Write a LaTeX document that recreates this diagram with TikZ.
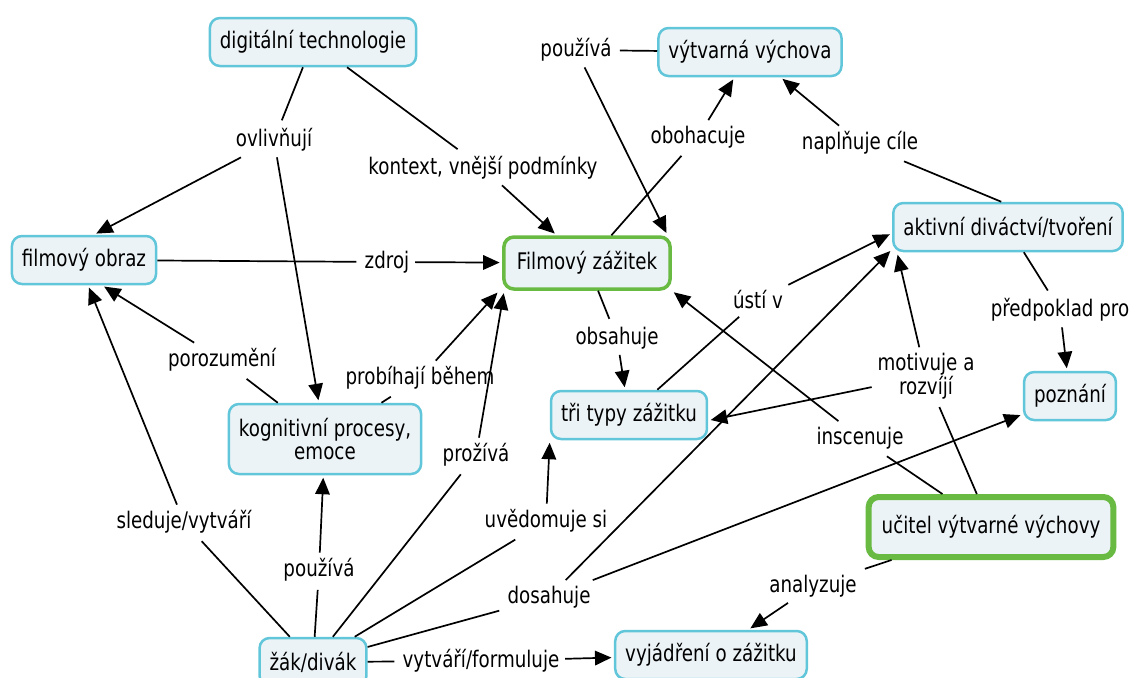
\documentclass[tikz,border=0pt]{standalone}
\usepackage{fontspec}
\setmainfont[FakeStretch=0.8]{DejaVu Sans}
\usetikzlibrary{arrows.meta}
\definecolor{cmapfill}{RGB}{236,243,246}
\definecolor{cmapcyan}{RGB}{98,198,218}
\definecolor{cmapgreen}{RGB}{104,186,66}

\begin{document}
\begin{tikzpicture}[x=0.02cm, y=-0.02cm, line width=0.034cm, >={Triangle[length=0.33cm,width=0.29cm]}, every edge/.append style={shorten >=0.05cm}, concept/.style = {draw=cmapcyan, line width=0.05cm, fill=cmapfill, rounded corners=0.2cm, inner xsep=0.2cm, inner ysep=0.1cm, minimum height=0.96cm, align=center, font=\fontsize{13}{13.5}\selectfont}, mainconcept/.style = {concept, draw=cmapgreen, line width=0.07cm, inner xsep=0.26cm, minimum height=1.04cm}, link/.style = {inner sep=0.1cm, align=center, font=\fontsize{13}{13.5}\selectfont}]

\useasboundingbox (0,0) rectangle (1130,677);

% concepts
\node[concept] (dt) at (313,42) {digitální technologie};
\node[concept] (vv) at (750,52) {výtvarná výchova};
\node[concept] (fo) at (84,260) {filmový obraz};
\node[mainconcept] (fz) at (587,263) {Filmový zážitek};
\node[concept] (ad) at (1008,227) {aktivní diváctví/tvoření};
\node[concept] (pz) at (1070,396) {poznání};
\node[concept] (tt) at (629,415) {tři typy zážitku};
\node[concept, minimum height=1.4cm] (kp) at (325,439) {kognitivní procesy,\\emoce};
\node[mainconcept, line width=0.12cm, minimum height=1.2cm] (uc) at (991,527) {učitel výtvarné výchovy};
\node[concept] (zd) at (313,662) {žák/divák};
\node[concept] (vz) at (711,655) {vyjádření o zážitku};

% linking phrases
\node[link] (ovl) at (274,140) {ovlivňují};
\node[link] (kon) at (483,168) {kontext, vnější podmínky};
\node[link] (pou) at (576,50) {používá};
\node[link] (obo) at (698,137) {obohacuje};
\node[link] (nap) at (860,143) {naplňuje cíle};
\node[link] (zdr) at (387,262) {zdroj};
\node[link] (por) at (222,360) {porozumění};
\node[link] (prb) at (420,378) {probíhají během};
\node[link] (obs) at (617,338) {obsahuje};
\node[link] (ust) at (758,300) {ústí v};
\node[link] (pre) at (1060,310) {předpoklad pro};
\node[link] (mot) at (926,376) {motivuje a\\rozvíjí};
\node[link] (ins) at (860,438) {inscenuje};
\node[link] (prz) at (476,455) {prožívá};
\node[link] (uve) at (546,521) {uvědomuje si};
\node[link] (sle) at (184,522) {sleduje/vytváří};
\node[link] (pou2) at (319,570) {používá};
\node[link] (dos) at (549,597) {dosahuje};
\node[link] (ana) at (813,586) {analyzuje};
\node[link] (vyt) at (481,661) {vytváří/formuluje};

\path
 (dt) edge (ovl)
 (ovl) edge[->] ([xshift=0.2cm]fo.north)
 (ovl) edge[->] (kp)
 (dt) edge (kon)
 (kon) edge[->] (fz)
 (fo) edge (zdr)
 (zdr) edge[->] (fz)
 (vv) edge (pou)
 (pou) edge[->] (fz.19)
 (fz) edge (obo)
 (obo) edge[->] (vv)
 (ad.105) edge (nap)
 (nap) edge[->] (vv)
 (fz) edge (obs)
 (obs) edge[->] (tt)
 (tt) edge (ust)
 (ust) edge[->] (ad.183)
 (ad) edge (pre)
 (pre) edge[->] (pz)
 (uc) edge (mot)
 (mot) edge[->] (tt.-4)
 (mot) edge[->] ([xshift=0.1cm]ad.south west)
 (uc) edge (ins)
 (ins) edge[->] (fz.south east)
 (kp) edge (por)
 (por) edge[->] ([xshift=0.36cm]fo.south)
 (kp) edge (prb)
 (prb) edge[->] ([xshift=-0.06cm]fz.south west)
 (zd) edge (sle)
 (sle) edge[->] ([xshift=0.08cm]fo.south)
 (zd) edge (pou2)
 (pou2) edge[->] (kp)
 (zd) edge (prz)
 (prz) edge[->] ([xshift=0.04cm]fz.south west)
 (zd) edge (uve)
 (uve) edge[->] (tt.south west)
 (zd) edge (dos)
 (dos) edge[->] ([yshift=0.06cm]ad.south west)
 (dos) edge[->] (pz)
 (zd) edge (vyt)
 (vyt) edge[->] (vz)
 (uc) edge (ana)
 (ana) edge[->] (vz);
\end{tikzpicture}
\end{document}
